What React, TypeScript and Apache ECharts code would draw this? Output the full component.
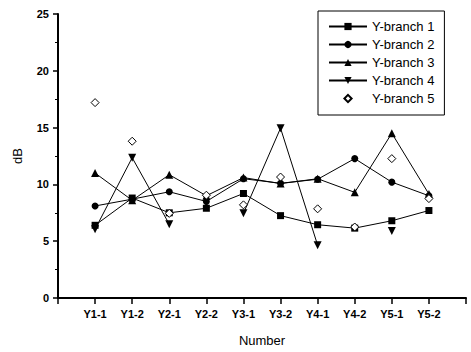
import React, { useEffect, useRef } from "react";
import * as echarts from "echarts";

const categories = ["", "Y1-1", "Y1-2", "Y2-1", "Y2-2", "Y3-1", "Y3-2", "Y4-1", "Y4-2", "Y5-1", "Y5-2", ""];
const branch1 = [6.4, 8.8, 7.5, 7.9, 9.2, 7.25, 6.45, 6.15, 6.8, 7.7];
const branch2 = [8.1, 8.7, 9.35, 8.5, 10.5, 10.1, 10.45, 12.27, 10.2, 9.0];
const branch3 = [11.0, 8.6, 10.85, 9.0, 10.6, 10.07, 10.5, 9.3, 14.5, 9.15];
const branch4 = [6.05, 12.35, 6.5, null, 7.45, 14.95, 4.65, null, 5.9, null];
const branch5 = [17.2, 13.8, 7.45, 9.05, 8.2, 10.65, 7.85, 6.25, 12.27, 8.75];
const seriesNames = ["Y-branch 1", "Y-branch 2", "Y-branch 3", "Y-branch 4", "Y-branch 5"];
const yTicks = { min: 0, max: 25, interval: 5 };

const pad = (arr: (number | null)[]) => [null, ...arr, null];
const FONT = "Liberation Sans";

export default function App() {
  const ref = useRef<HTMLDivElement>(null);
  useEffect(() => {
    const chart = echarts.init(ref.current!, null, { renderer: "svg" });
    const lineBase = (name: string, data: (number | null)[], symbol: string, size: number) => ({
      name,
      type: "line",
      data: pad(data),
      symbol,
      symbolSize: size,
      showSymbol: true,
      showAllSymbol: true,
      connectNulls: false,
      lineStyle: { color: "#000", width: 1 },
      itemStyle: { color: "#000", borderColor: "#000", borderWidth: 0 },
      emphasis: { disabled: true },
    });
    chart.setOption({
      animation: false,
      grid: { left: 58, top: 14, right: 5, bottom: 46, containLabel: false },
      legend: {
        orient: "vertical",
        left: 318,
        top: 11,
        width: 135,
        padding: [8, 10, 9, 10],
        borderColor: "#000",
        borderWidth: 1,
        itemWidth: 38,
        itemHeight: 9,
        itemGap: 3,
        textStyle: { fontFamily: FONT, fontSize: 13, color: "#000", lineHeight: 15 },
        data: seriesNames,
      },
      xAxis: {
        type: "category",
        data: categories,
        boundaryGap: false,
        name: "Number",
        nameLocation: "middle",
        nameGap: 36,
        nameTextStyle: { fontFamily: FONT, fontSize: 13, color: "#000" },
        axisLine: { lineStyle: { color: "#000", width: 2 } },
        axisTick: { show: true, inside: false, length: 6, interval: 0, lineStyle: { color: "#000", width: 1.5 } },
        axisLabel: { interval: 0, fontFamily: FONT, fontSize: 11, fontWeight: "bold", color: "#000", margin: 10 },
        splitLine: { show: false },
      },
      yAxis: {
        type: "value",
        min: yTicks.min,
        max: yTicks.max,
        interval: yTicks.interval,
        name: "dB",
        nameLocation: "middle",
        nameGap: 34,
        nameTextStyle: { fontFamily: FONT, fontSize: 13, color: "#000" },
        axisLine: { show: true, lineStyle: { color: "#000", width: 2 } },
        axisTick: { show: true, inside: false, length: 5, lineStyle: { color: "#000", width: 1.5 } },
        minorTick: { show: true, splitNumber: 2, length: 3, lineStyle: { color: "#000", width: 1 } },
        axisLabel: { fontFamily: FONT, fontSize: 11, fontWeight: "bold", color: "#000", margin: 9 },
        splitLine: { show: false },
        minorSplitLine: { show: false },
      },
      series: [
        lineBase(seriesNames[0], branch1, "rect", 7),
        lineBase(seriesNames[1], branch2, "circle", 7),
        lineBase(seriesNames[2], branch3, "triangle", 8),
        lineBase(seriesNames[3], branch4, "path://M0,0 L10,0 L5,9 Z", 8),
        {
          name: seriesNames[4],
          type: "line",
          data: pad(branch5),
          symbol: "diamond",
          symbolSize: 8,
          showSymbol: true,
          showAllSymbol: true,
          lineStyle: { width: 0, color: "rgba(0,0,0,0)" },
          itemStyle: { color: "#fff", borderColor: "#000", borderWidth: 1 },
          emphasis: { disabled: true },
        },
      ],
    });
    return () => chart.dispose();
  }, []);
  return <div ref={ref} style={{ position: "absolute", left: 0, top: 0, width: 471, height: 352 }} />;
}
